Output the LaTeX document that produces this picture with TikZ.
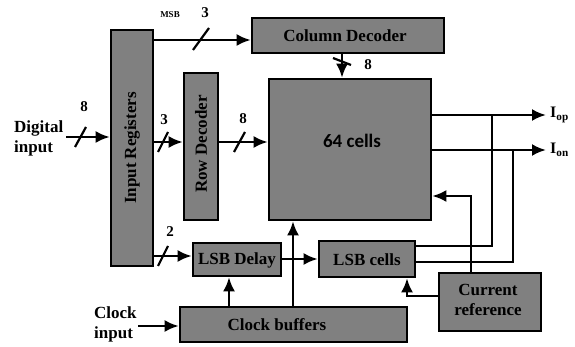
\documentclass[tikz,border=0pt]{standalone}
\usepackage{fontspec}
\setmainfont{Liberation Serif}
\newfontfamily\calfont{Carlito}
\usetikzlibrary{arrows.meta}
\definecolor{boxgray}{RGB}{128,128,128}
\begin{document}
\begin{tikzpicture}[x=1pt,y=-1pt,
  box/.style={draw=black, line width=2.6pt, fill=boxgray, inner sep=0pt},
  lab/.style={font=\bfseries\fontsize{17}{20}\selectfont, inner sep=0pt, align=center},
  num/.style={font=\bfseries\fontsize{15}{17}\selectfont, inner sep=0pt},
  conn/.style={line width=2.6pt, -{Latex[length=14pt,width=12pt]}},
  wire/.style={line width=2.6pt},
  busmark/.style={line width=2.2pt}]
\useasboundingbox (0,0) rectangle (575,347);
% boxes
\node[box, minimum width=42, minimum height=236] (ir) at (132,148) {};
\node[lab, rotate=90] (irt) at (ir.center) {Input Registers};
\node[box, minimum width=192, minimum height=35] (cd) at (348,35.5) {};
\node[lab] (cdt) at (345,36) {Column Decoder};
\node[box, minimum width=34, minimum height=147] (rd) at (201,146.5) {};
\node[lab, rotate=90] (rdt) at (201,144) {Row Decoder};
\node[box, minimum width=162, minimum height=141] (cells) at (350,149.5) {};
\node[font=\calfont\bfseries\fontsize{19}{22}\selectfont, inner sep=0pt] (cellst) at (352,141) {64 cells};
\node[box, minimum width=88, minimum height=33] (lsbd) at (237,259.5) {};
\node[lab] (lsbdt) at (237,260) {LSB Delay};
\node[box, minimum width=227, minimum height=35] (cb) at (293.5,324.5) {};
\node[lab] (cbt) at (277,325) {Clock buffers};
\node[box, minimum width=96, minimum height=36] (lsbc) at (367,259) {};
\node[lab] (lsbct) at (367,260) {LSB cells};
\node[box, minimum width=102, minimum height=58] (cr) at (490,302) {};
\node[lab] (crt) at (488,300) {Current\\reference};
% outside texts
\node[lab, align=left, anchor=west] (din) at (14,138) {Digital\\input};
\node[lab, align=left, anchor=west] (cin) at (94,324) {Clock\\input};
\node[font=\bfseries\fontsize{16}{18}\selectfont, inner sep=0pt, anchor=west] (iop) at (550,115) {I\textsubscript{op}};
\node[font=\bfseries\fontsize{16}{18}\selectfont, inner sep=0pt, anchor=west] (ion) at (550,150) {I\textsubscript{on}};
% y levels
\coordinate (y40) at (0,40);
\coordinate (y137) at (0,137);
\coordinate (y142) at (0,142);
\coordinate (y115) at (0,115);
\coordinate (y150) at (0,150);
\coordinate (y196) at (0,196);
\coordinate (y246) at (0,246);
\coordinate (y262) at (0,262);
\coordinate (y256) at (0,256);
\coordinate (y259) at (0,259);
\coordinate (y296) at (0,296);
\coordinate (y326) at (0,326);
\coordinate (x229) at (229,0);
\coordinate (x293) at (293,0);
\coordinate (x342) at (342,0);
\coordinate (x407) at (407,0);
\coordinate (x471) at (471,0);
\coordinate (x492) at (492,0);
\coordinate (x513) at (513,0);
\coordinate (dinstart) at (66,137);
\coordinate (cinstart) at (138,326);
\coordinate (iopend) at (546,115);
\coordinate (ionend) at (546,150);
% connectors
\draw[conn] (dinstart) -- (ir.west |- y137);
\draw[busmark] (75,147) -- (86,127);
\node[num] (n8a) at (84,107) {8};
\draw[conn] (ir.east |- y40) -- (cd.west |- y40);
\draw[busmark] (193,50) -- (209,28);
\node[num] (n3a) at (205,13) {3};
\node[font=\bfseries\fontsize{9}{10}\selectfont, inner sep=0pt] (msb) at (170,15) {MSB};
\draw[conn] (ir.east |- y142) -- (rd.west |- y142);
\draw[busmark] (158,152) -- (168,132);
\node[num] (n3b) at (164,120) {3};
\draw[conn] (rd.east |- y142) -- (cells.west |- y142);
\draw[busmark] (234,152) -- (245,132);
\node[num] (n8b) at (243,119) {8};
\draw[conn] (cd.south -| x342) -- (cells.north -| x342);
\draw[busmark] (333,58) -- (351,65);
\node[num] (n8c) at (368,65) {8};
\draw[conn] (cells.east |- y115) -- (iopend);
\draw[conn] (cells.east |- y150) -- (ionend);
\draw[wire] (lsbc.east |- y246) -| (x492 |- y115);
\draw[wire] (lsbc.east |- y262) -| (x513 |- y150);
\draw[conn] (cr.north -| x471) |- (cells.east |- y196);
\draw[conn] (cr.west |- y296) -| (lsbc.south -| x407);
\draw[conn] (cb.north -| x229) -- (lsbd.south -| x229);
\draw[conn] (cb.north -| x293) -- (cells.south -| x293);
\draw[conn] (lsbd.east |- y259) -- (lsbc.west |- y259);
\draw[conn] (ir.east |- y256) -- (lsbd.west |- y256);
\draw[busmark] (158,266) -- (168,246);
\node[num] (n2) at (170,232) {2};
\draw[conn] (cinstart) -- (cb.west |- y326);
\end{tikzpicture}
\end{document}
